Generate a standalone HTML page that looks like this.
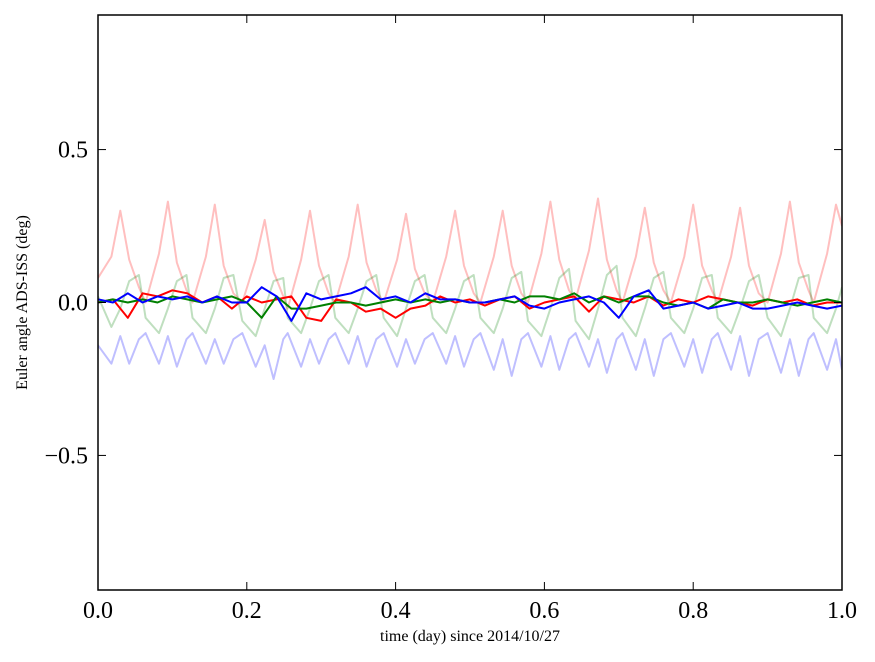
<!DOCTYPE html>
<html><head><meta charset="utf-8"><style>
html,body{margin:0;padding:0;background:#fff;}
svg{display:block;font-family:"Liberation Serif",serif;}
</style></head><body>
<svg id="chart" width="875" height="662" viewBox="0 0 875 662"></svg>
<script>
// ---- data ----
const xTicks=[0.0,0.2,0.4,0.6,0.8,1.0];
const xTickLabels=["0.0","0.2","0.4","0.6","0.8","1.0"];
const yTicks=[0.5,0.0,-0.5];
const yTickLabels=["0.5","0.0","\u22120.5"];
const faintTimes=[0.0,0.018,0.030,0.042,0.055,0.064,0.082,0.094,0.106,0.119,0.127,0.145,0.157,0.169,0.182,0.194,0.212,0.224,0.236,0.249,0.255,0.273,0.285,0.297,0.310,0.319,0.337,0.349,0.361,0.374,0.384,0.402,0.414,0.426,0.439,0.450,0.468,0.480,0.492,0.505,0.514,0.532,0.544,0.556,0.569,0.578,0.596,0.608,0.620,0.633,0.642,0.660,0.672,0.684,0.697,0.705,0.723,0.735,0.747,0.760,0.770,0.788,0.800,0.812,0.825,0.833,0.851,0.863,0.875,0.888,0.900,0.918,0.930,0.942,0.955,0.962,0.980,0.992,1.0];
const redFaint=[0.08,0.15,0.30,0.14,0.05,0.0,0.16,0.33,0.13,0.04,0.0,0.15,0.32,0.12,0.03,0.0,0.14,0.27,0.10,0.02,-0.02,0.14,0.30,0.12,0.03,0.0,0.15,0.32,0.13,0.04,0.0,0.14,0.29,0.11,0.03,0.0,0.15,0.30,0.12,0.03,0.0,0.15,0.30,0.12,0.03,0.0,0.16,0.33,0.14,0.04,0.01,0.17,0.34,0.14,0.04,0.0,0.15,0.31,0.13,0.04,0.0,0.15,0.32,0.12,0.04,0.0,0.15,0.31,0.12,0.03,0.0,0.16,0.33,0.13,0.04,0.0,0.16,0.32,0.25];
const greenFaint=[0.02,-0.08,-0.02,0.07,0.09,-0.05,-0.10,-0.02,0.07,0.09,-0.05,-0.10,-0.02,0.08,0.09,-0.06,-0.11,-0.02,0.07,0.08,-0.05,-0.10,-0.02,0.07,0.09,-0.05,-0.10,-0.02,0.07,0.09,-0.05,-0.11,-0.02,0.07,0.09,-0.05,-0.10,-0.02,0.07,0.09,-0.05,-0.10,-0.02,0.08,0.10,-0.06,-0.11,-0.02,0.08,0.11,-0.06,-0.12,-0.02,0.09,0.12,-0.05,-0.11,-0.02,0.08,0.10,-0.05,-0.10,-0.02,0.08,0.09,-0.05,-0.10,-0.02,0.07,0.09,-0.05,-0.11,-0.02,0.08,0.09,-0.05,-0.10,-0.02,0.05];
const blueFaint=[-0.14,-0.20,-0.11,-0.20,-0.12,-0.10,-0.20,-0.11,-0.21,-0.12,-0.10,-0.20,-0.12,-0.20,-0.12,-0.10,-0.21,-0.14,-0.25,-0.12,-0.10,-0.21,-0.12,-0.20,-0.12,-0.10,-0.20,-0.11,-0.21,-0.12,-0.10,-0.21,-0.12,-0.20,-0.12,-0.10,-0.20,-0.11,-0.21,-0.12,-0.10,-0.22,-0.12,-0.24,-0.12,-0.10,-0.21,-0.11,-0.22,-0.12,-0.10,-0.21,-0.12,-0.23,-0.12,-0.10,-0.22,-0.12,-0.24,-0.12,-0.10,-0.21,-0.12,-0.23,-0.12,-0.10,-0.22,-0.11,-0.24,-0.12,-0.10,-0.23,-0.12,-0.24,-0.12,-0.10,-0.22,-0.12,-0.22];
const darkTimes=[0,0.02,0.04,0.06,0.08,0.10,0.12,0.14,0.16,0.18,0.20,0.22,0.24,0.26,0.28,0.30,0.32,0.34,0.36,0.38,0.40,0.42,0.44,0.46,0.48,0.50,0.52,0.54,0.56,0.58,0.60,0.62,0.64,0.66,0.68,0.70,0.72,0.74,0.76,0.78,0.80,0.82,0.84,0.86,0.88,0.90,0.92,0.94,0.96,0.98,1.0];
const redDark=[0.0,0.01,-0.05,0.03,0.02,0.04,0.03,0.0,0.02,-0.02,0.02,0.0,0.01,0.02,-0.05,-0.06,0.01,0.0,-0.03,-0.02,-0.05,-0.02,-0.01,0.02,0.0,0.01,-0.01,0.01,0.02,-0.02,0.0,0.01,0.02,-0.03,0.02,0.01,0.0,0.02,-0.01,0.01,0.0,0.02,0.01,0.0,-0.01,0.01,0.0,0.01,-0.01,0.0,0.0];
const greenDark=[0.0,0.01,0.0,0.01,0.0,0.02,0.01,0.0,0.01,0.02,0.0,-0.05,0.02,-0.02,-0.02,-0.01,0.0,0.0,-0.01,0.0,0.01,0.0,0.01,0.0,0.01,0.0,0.0,0.01,0.0,0.02,0.02,0.01,0.03,0.0,0.02,0.0,0.02,0.02,0.0,-0.01,0.0,-0.02,0.01,0.0,0.0,0.01,0.0,-0.01,0.0,0.01,0.0];
const blueDark=[0.01,0.0,0.03,0.0,0.02,0.01,0.02,0.0,0.02,0.0,0.0,0.05,0.02,-0.06,0.03,0.01,0.02,0.03,0.05,0.01,0.02,0.0,0.03,0.01,0.01,0.0,0.0,0.01,0.02,-0.01,-0.02,0.0,0.01,0.02,0.0,-0.05,0.02,0.04,-0.02,-0.01,0.0,-0.02,-0.01,0.0,-0.02,-0.02,-0.01,0.0,-0.01,-0.02,-0.01];

const L=98,R=842,T=15,B=590,YMIN=-0.94,YMAX=0.94;
const sx=v=>L+(v-0)/(1-0)*(R-L);
const sy=v=>B-(v-YMIN)/(YMAX-YMIN)*(B-T);
const NS="http://www.w3.org/2000/svg";
const svg=document.getElementById('chart');
function mk(tag,attrs,parent){const e=document.createElementNS(NS,tag);for(const k in attrs)e.setAttribute(k,attrs[k]);(parent||svg).appendChild(e);return e;}

const clip=mk('clipPath',{id:'pc'});mk('rect',{x:L,y:T,width:R-L,height:B-T},clip);
const plot=mk('g',{'clip-path':'url(#pc)'});


function line(ts,vs,color,w,op,name){
  const d=ts.map((t,i)=>(i?'L':'M')+sx(t).toFixed(1)+' '+sy(vs[i]).toFixed(1)).join(' ');
  const p=mk('path',{d:d,fill:'none',stroke:color,'stroke-width':w,'stroke-opacity':op,'stroke-linejoin':'round'},plot);
  
  
}
line(faintTimes,redFaint,'#ff0000',2,0.25,'red-faint-series');
line(faintTimes,greenFaint,'#008000',2,0.25,'green-faint-series');
line(faintTimes,blueFaint,'#0000ff',2,0.25,'blue-faint-series');
line(darkTimes,redDark,'#ff0000',2,1,'red-series');
line(darkTimes,greenDark,'#008000',2,1,'green-series');
line(darkTimes,blueDark,'#0000ff',2,1,'blue-series');

const frame=mk('rect',{x:L,y:T,width:R-L,height:B-T,fill:'none',stroke:'#000','stroke-width':1.5});



xTicks.forEach((v,i)=>{
  const x=sx(v);
  mk('line',{x1:x,x2:x,y1:B,y2:B-8,stroke:'#000'});
  mk('line',{x1:x,x2:x,y1:T,y2:T+8,stroke:'#000'});
  const t=mk('text',{x:x,y:B+28,'text-anchor':'middle','font-size':24});
  t.textContent=xTickLabels[i];
  
  
});
yTicks.forEach((v,i)=>{
  const y=sy(v);
  mk('line',{x1:L,x2:L+8,y1:y,y2:y,stroke:'#000'});
  mk('line',{x1:R,x2:R-8,y1:y,y2:y,stroke:'#000'});
  const t=mk('text',{x:L-10,y:y+8,'text-anchor':'end','font-size':24});
  t.textContent=yTickLabels[i];
  
  
});
const xl=mk('text',{x:(L+R)/2,y:641,'text-anchor':'middle','font-size':16});
xl.textContent='time (day) since 2014/10/27';


const yl=mk('text',{x:0,y:0,'text-anchor':'middle','font-size':16,transform:'translate(27,'+((T+B)/2)+') rotate(-90)'});
yl.textContent='Euler angle ADS-ISS (deg)';


</script>
</body></html>
